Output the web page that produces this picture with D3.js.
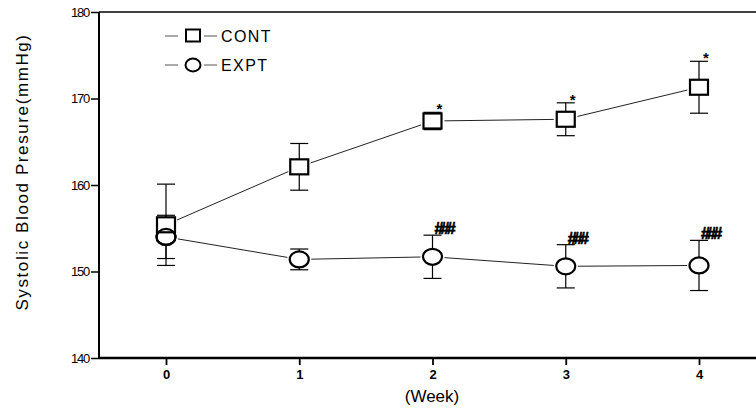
<!DOCTYPE html>
<html lang="en">
    <head>
        <meta charset="utf-8">
        <title> Systolic blood pressure </title>
        <script src="https://d3js.org/d3.v7.min.js"></script>
        <style type="text/css">
            body { margin: 0; background: #fff; }
            text { font-family: "Liberation Sans", Arial, sans-serif; }
        </style>
    </head>
    <body>
        <script type="text/javascript">

// set width and height
var w = 756;
var h = 411;

// data
var weeks = [0, 1, 2, 3, 4];
var contMean = [155.4, 162.1, 167.4, 167.6, 171.3];
var contErr = [4.7, 2.7, 1.0, 1.9, 3.0];
var exptMean = [154.0, 151.4, 151.7, 150.6, 150.7];
var exptErr = [2.5, 1.2, 2.5, 2.5, 2.9];
var contMarks = ["", "", "*", "*", "*"];
var exptMarks = ["", "", "###", "###", "###"];
var yTicks = [140, 150, 160, 170, 180];

// scales
var xScale = d3.scaleLinear().domain([0, 4]).range([166, 699]);
var yScale = d3.scaleLinear().domain([140, 180]).range([358, 12]);

var svg = d3.select("body")
            .append("svg")
            .attr("width", w)
            .attr("height", h);

// axes
var yAxis = d3.axisLeft(yScale).tickValues(yTicks).tickSize(8).tickPadding(2);
var gy = svg.append("g")
            .attr("transform", "translate(99,0)")
            .call(yAxis);
gy.select(".domain").remove();
gy.append("line").attr("x1", 0).attr("x2", 0).attr("y1", 12).attr("y2", 358)
  .attr("stroke", "#000").attr("stroke-width", 2);
gy.selectAll(".tick line").attr("stroke-width", 1.5);
gy.selectAll(".tick text").attr("font-size", 13).attr("letter-spacing", -1.2)
  .attr("font-family", "Liberation Sans, Arial, sans-serif");

var xAxis = d3.axisBottom(xScale).tickValues(weeks).tickFormat(d3.format("d"))
              .tickSize(7).tickPadding(5);
var gx = svg.append("g")
            .attr("transform", "translate(0,358)")
            .call(xAxis);
gx.select(".domain").remove();
gx.selectAll(".tick line").attr("stroke-width", 1.8);
gx.selectAll(".tick text").attr("font-size", 13).attr("font-weight", "bold")
  .attr("font-family", "Liberation Sans, Arial, sans-serif");

// frame: bottom and top lines
svg.append("line").attr("x1", 99).attr("x2", w).attr("y1", 358).attr("y2", 358)
   .attr("stroke", "#000").attr("stroke-width", 2.5);
svg.append("line").attr("x1", 99).attr("x2", w).attr("y1", 12).attr("y2", 12)
   .attr("stroke", "#000").attr("stroke-width", 1.5);

// axis titles
svg.append("text")
   .attr("transform", "translate(28,172) rotate(-90)")
   .attr("text-anchor", "middle")
   .attr("font-size", 17)
   .attr("letter-spacing", 1.6)
   .text("Systolic Blood Presure(mmHg)");

svg.append("text")
   .attr("x", 432).attr("y", 402)
   .attr("text-anchor", "middle")
   .attr("font-size", 17)
   .text("(Week)");

// connecting segments with gaps round the markers
function drawLine(means) {
  var gap = 12;
  for (var i = 0; i < means.length - 1; i++) {
    var x1 = xScale(weeks[i]), y1 = yScale(means[i]);
    var x2 = xScale(weeks[i + 1]), y2 = yScale(means[i + 1]);
    var len = Math.hypot(x2 - x1, y2 - y1);
    var ux = (x2 - x1) / len, uy = (y2 - y1) / len;
    svg.append("line")
       .attr("x1", x1 + ux * gap).attr("y1", y1 + uy * gap)
       .attr("x2", x2 - ux * gap).attr("y2", y2 - uy * gap)
       .attr("stroke", "#222").attr("stroke-width", 1);
  }
}

function drawErr(means, errs) {
  var g = svg.append("g");
  weeks.forEach(function(d, i){
    var x = xScale(d);
    g.append("line").attr("x1", x).attr("x2", x)
     .attr("y1", yScale(means[i] - errs[i])).attr("y2", yScale(means[i] + errs[i]))
     .attr("stroke", "#000").attr("stroke-width", 1.2);
    [means[i] - errs[i], means[i] + errs[i]].forEach(function(v){
      g.append("line").attr("x1", x - 9).attr("x2", x + 9)
       .attr("y1", yScale(v)).attr("y2", yScale(v))
       .attr("stroke", "#000").attr("stroke-width", 1.2);
    });
  });
}

drawLine(contMean);
drawLine(exptMean);
drawErr(exptMean, exptErr);
drawErr(contMean, contErr);

// markers
svg.selectAll(".expt")
   .data(exptMean)
   .enter()
   .append("ellipse")
   .attr("class", "expt")
   .attr("cx", function(d, i){ return xScale(weeks[i]); })
   .attr("cy", function(d){ return yScale(d); })
   .attr("rx", 9.5).attr("ry", 8)
   .attr("fill", "#fff").attr("stroke", "#000").attr("stroke-width", 2.2);

svg.selectAll(".cont")
   .data(contMean)
   .enter()
   .append("rect")
   .attr("class", "cont")
   .attr("x", function(d, i){ return xScale(weeks[i]) - 9; })
   .attr("y", function(d){ return yScale(d) - 7.5; })
   .attr("width", 18).attr("height", 15)
   .attr("fill", "#fff").attr("stroke", "#000").attr("stroke-width", 2.2);

// week 0 circle outline drawn over the square, as in the picture
svg.append("ellipse")
   .attr("cx", xScale(weeks[0])).attr("cy", yScale(exptMean[0]))
   .attr("rx", 9.5).attr("ry", 8)
   .attr("fill", "none").attr("stroke", "#000").attr("stroke-width", 2.2);

// significance marks
svg.selectAll(".star")
   .data(contMarks)
   .enter()
   .append("text")
   .attr("class", "star")
   .attr("x", function(d, i){ return xScale(weeks[i]) + 4; })
   .attr("y", function(d, i){ return yScale(contMean[i] + contErr[i]) + 2; })
   .attr("font-size", 15).attr("font-weight", "bold")
   .text(function(d){ return d; });

svg.selectAll(".hash")
   .data(exptMarks)
   .enter()
   .append("text")
   .attr("class", "hash")
   .attr("x", function(d, i){ return xScale(weeks[i]) + 2; })
   .attr("y", function(d, i){ return yScale(exptMean[i] + exptErr[i]) - 1; })
   .attr("font-size", 16).attr("font-weight", "bold").attr("letter-spacing", -2.8)
   .attr("stroke", "#000").attr("stroke-width", 0.7)
   .text(function(d){ return d; });

// legend
var legendNames = ["CONT", "EXPT"];
var legend = svg.selectAll(".legend")
   .data(legendNames)
   .enter()
   .append("g")
   .attr("class", "legend")
   .attr("transform", function(d, i){ return "translate(0," + (36 + i * 29) + ")"; });

legend.append("line").attr("x1", 165).attr("x2", 178).attr("y1", 0).attr("y2", 0)
      .attr("stroke", "#555").attr("stroke-width", 1);
legend.append("line").attr("x1", 204).attr("x2", 217).attr("y1", 0).attr("y2", 0)
      .attr("stroke", "#555").attr("stroke-width", 1);
legend.filter(function(d, i){ return i === 0; })
      .append("rect").attr("x", 186).attr("y", -6.5).attr("width", 14).attr("height", 12)
      .attr("fill", "#fff").attr("stroke", "#000").attr("stroke-width", 2);
legend.filter(function(d, i){ return i === 1; })
      .append("ellipse").attr("cx", 193).attr("cy", 0).attr("rx", 7.5).attr("ry", 6.5)
      .attr("fill", "#fff").attr("stroke", "#000").attr("stroke-width", 2);
legend.append("text").attr("x", 221).attr("y", 6)
      .attr("font-size", 16).attr("letter-spacing", 1.4)
      .text(function(d){ return d; });

        </script>
    </body>
</html>
